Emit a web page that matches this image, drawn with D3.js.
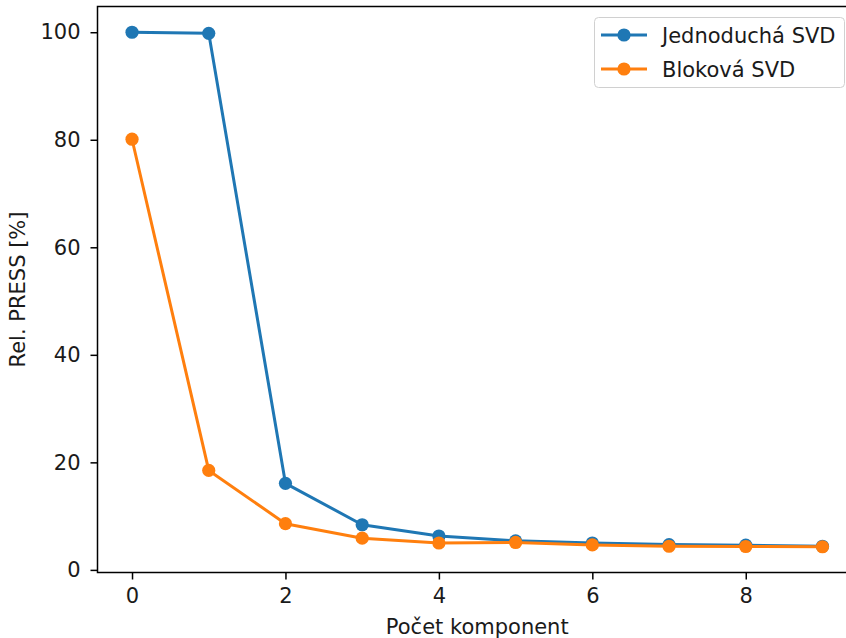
<!DOCTYPE html>
<html>
<head>
<meta charset="utf-8">
<script src="https://cdn.jsdelivr.net/npm/d3@7"></script>
<style>
  body { margin: 0; background: #fff; }
  svg { display: block; font-family: "DejaVu Sans", sans-serif; }
</style>
</head>
<body>
<svg id="viz" width="846" height="638"></svg>
<script>
// components on the x axis
var components = [0, 1, 2, 3, 4, 5, 6, 7, 8, 9];
// relative PRESS values [%]
var simpleSvd = [100.0, 99.8, 16.1, 8.4, 6.3, 5.4, 5.0, 4.7, 4.6, 4.4];
var blockSvd  = [80.1, 18.5, 8.6, 5.9, 5.0, 5.1, 4.65, 4.4, 4.35, 4.3];
var xTicks = [0, 2, 4, 6, 8];
var yTicks = [0, 20, 40, 60, 80, 100];
var seriesNames = ["Jednoduchá SVD", "Bloková SVD"];
var seriesColors = ["#1f77b4", "#ff7f0e"];

var FS = 21; // text size

var box = { left: 97.5, top: 6.5, right: 857, bottom: 572.5 };

// matplotlib style 5% margins
function padded(lo, hi) {
    var m = (hi - lo) * 0.05;
    return [lo - m, hi + m];
}
var allY = simpleSvd.concat(blockSvd);

var x = d3.scaleLinear()
    .domain(padded(d3.min(components), d3.max(components)))
    .range([box.left, box.right]);
var y = d3.scaleLinear()
    .domain(padded(d3.min(allY), d3.max(allY)))
    .range([box.bottom, box.top]);

var svg = d3.select("#viz");

// axes frame (right side falls outside the picture)
svg.append("rect")
    .attr("x", box.left).attr("y", box.top)
    .attr("width", box.right - box.left).attr("height", box.bottom - box.top)
    .attr("fill", "none").attr("stroke", "#000").attr("stroke-width", 1.5);

var xAxis = svg.append("g")
    .attr("transform", "translate(0," + box.bottom + ")")
    .call(d3.axisBottom(x).tickValues(xTicks).tickSize(7).tickPadding(9).tickFormat(d3.format("d")));
var yAxis = svg.append("g")
    .attr("transform", "translate(" + box.left + ",0)")
    .call(d3.axisLeft(y).tickValues(yTicks).tickSize(7).tickPadding(10).tickFormat(d3.format("d")));

[xAxis, yAxis].forEach(function (g) {
    g.select(".domain").remove();
    g.selectAll(".tick line").attr("stroke", "#000").attr("stroke-width", 1.5);
    g.selectAll(".tick text")
        .attr("fill", "#1a1a1a")
        .style("font-size", FS + "px")
        .style("font-family", "DejaVu Sans");
});

// axis labels
svg.append("text")
    .attr("x", (box.left + box.right) / 2)
    .attr("y", 634)
    .attr("text-anchor", "middle")
    .attr("fill", "#1a1a1a")
    .style("font-size", FS + "px")
    .text("Počet komponent");

svg.append("text")
    .attr("transform", "translate(25," + ((box.top + box.bottom) / 2) + ") rotate(-90)")
    .attr("text-anchor", "middle")
    .attr("fill", "#1a1a1a")
    .style("font-size", FS + "px")
    .text("Rel. PRESS [%]");

// series
var line = d3.line()
    .x(function (d) { return x(d[0]); })
    .y(function (d) { return y(d[1]); });

[simpleSvd, blockSvd].forEach(function (vals, i) {
    var pts = components.map(function (c, k) { return [c, vals[k]]; });
    var g = svg.append("g");
    g.append("path")
        .datum(pts)
        .attr("d", line)
        .attr("fill", "none")
        .attr("stroke", seriesColors[i])
        .attr("stroke-width", 3)
        .attr("stroke-linejoin", "round")
        .attr("stroke-linecap", "square");
    g.selectAll("circle")
        .data(pts)
        .enter().append("circle")
        .attr("cx", function (d) { return x(d[0]); })
        .attr("cy", function (d) { return y(d[1]); })
        .attr("r", 6.6)
        .attr("fill", seriesColors[i]);
});

// legend
var legend = svg.append("g");
legend.append("rect")
    .attr("x", 594.5).attr("y", 17.5)
    .attr("width", 250).attr("height", 70)
    .attr("rx", 4)
    .attr("fill", "#fff").attr("fill-opacity", 0.8)
    .attr("stroke", "#d0d0d0").attr("stroke-width", 1);

seriesNames.forEach(function (name, i) {
    var cy = 35 + i * 34;
    legend.append("line")
        .attr("x1", 601).attr("x2", 647)
        .attr("y1", cy).attr("y2", cy)
        .attr("stroke", seriesColors[i]).attr("stroke-width", 3);
    legend.append("circle")
        .attr("cx", 624).attr("cy", cy).attr("r", 6.6)
        .attr("fill", seriesColors[i]);
    legend.append("text")
        .attr("x", 662)
        .attr("y", cy)
        .attr("dy", "0.36em")
        .style("font-size", FS + "px")
        .attr("fill", "#1a1a1a")
        .text(name);
});
</script>
</body>
</html>
